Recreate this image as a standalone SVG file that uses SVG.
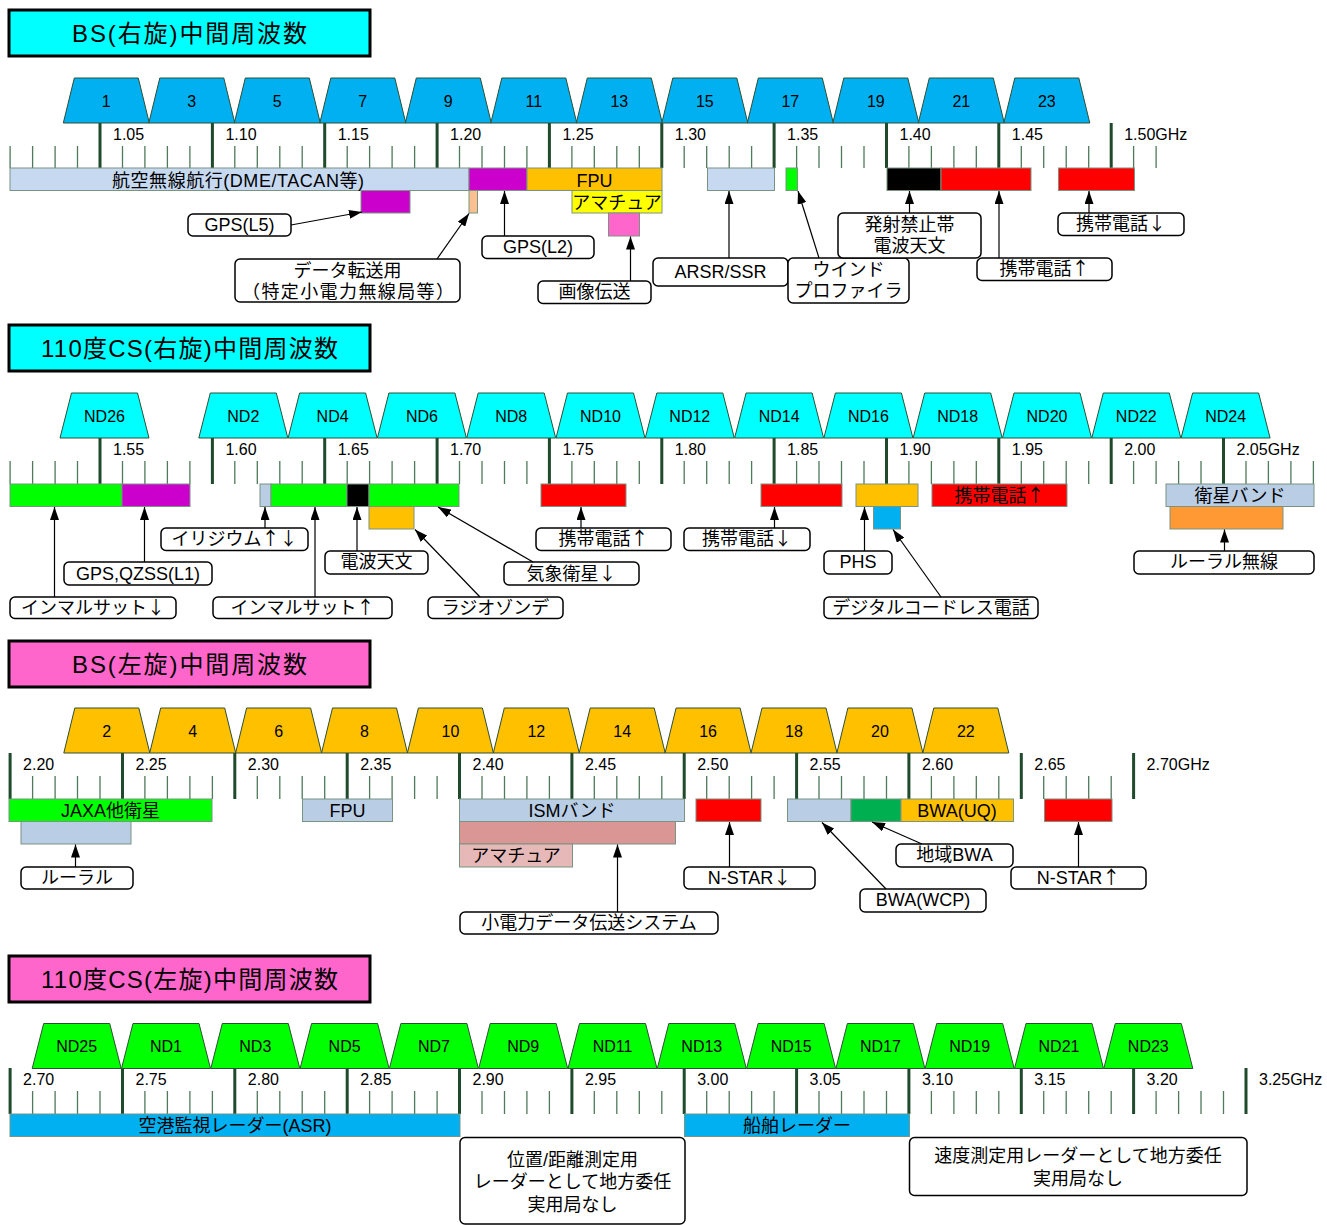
<svg xmlns="http://www.w3.org/2000/svg" width="1327" height="1225" viewBox="0 0 1327 1225">
<defs>
<style>
.t{font-family:"Liberation Sans","Noto Sans CJK JP",sans-serif;fill:#000}
.ar{font-family:"Noto Sans CJK JP",sans-serif}
.c{text-anchor:middle}
.hd{font-size:24px}
.lb{font-size:18px}
.fq{font-size:16px}
.ch{font-size:16px}
.hdr{stroke:#000;stroke-width:3}
.cy{fill:#00ffff}
.pk{fill:#ff66cc}
.maj{stroke:#1f4a2c;stroke-width:3;fill:none}
.min{stroke:#4f7a5c;stroke-width:1.3;fill:none}
.tr{stroke:#2f4f35;stroke-width:1}
.bs{fill:#00b0f0}
.cs{fill:#00ffff}
.or{fill:#ffc000}
.gr{fill:#00ff00}
.bd{stroke:#7a9482;stroke-width:1}
.lblue{fill:#c6d9f1}
.gblue{fill:#b9cde5}
.mag{fill:#cc00cc}
.peach{fill:#fac090}
.yel{fill:#ffff00}
.red{fill:#ff0000}
.blk{fill:#000000}
.blue{fill:#00b0f0}
.lor{fill:#ff9933}
.rose{fill:#d99694}
.lrose{fill:#e6b9b8}
.dgr{fill:#00b050}
.box{fill:#fff;stroke:#000;stroke-width:1.5}
.cn{stroke:#000;stroke-width:1.2;fill:none;marker-end:url(#ah)}
</style>
<marker id="ah" viewBox="0 0 13 9" refX="13" refY="4.5" markerWidth="13" markerHeight="9" orient="auto" markerUnits="userSpaceOnUse"><path d="M0 0L13 4.5L0 9z" fill="#000"/></marker>
<path id="trA" d="M-43 45L-32 0H32L43 45Z"/>
<path id="trB" d="M-44.5 45L-33 0H33L44.5 45Z"/>
</defs>
<rect width="1327" height="1225" fill="#fff"/>

<!-- Headers -->
<g id="hdr-bs-right"><rect x="9" y="10" width="361" height="46" class="hdr cy"/><text x="189.5" y="42" class="t hd c" textLength="235">BS(右旋)中間周波数</text></g>
<g id="hdr-cs-right"><rect x="9" y="325" width="361" height="46" class="hdr cy"/><text x="189.5" y="357" class="t hd c" textLength="297">110度CS(右旋)中間周波数</text></g>
<g id="hdr-bs-left"><rect x="9" y="641" width="361" height="46" class="hdr pk"/><text x="189.5" y="673" class="t hd c" textLength="235">BS(左旋)中間周波数</text></g>
<g id="hdr-cs-left"><rect x="9" y="956" width="361" height="46" class="hdr pk"/><text x="189.5" y="988" class="t hd c" textLength="297">110度CS(左旋)中間周波数</text></g>

<!-- Scales -->
<g id="scale1">
<path class="min" d="M10.1 146v22M32.6 146v22M55.1 146v22M77.5 146v22M122.5 146v22M144.9 146v22M167.4 146v22M189.9 146v22M234.8 146v22M257.3 146v22M279.8 146v22M302.2 146v22M347.2 146v22M369.6 146v22M392.1 146v22M414.6 146v22M459.5 146v22M482 146v22M504.5 146v22M526.9 146v22M571.9 146v22M594.3 146v22M616.8 146v22M639.3 146v22M684.2 146v22M706.7 146v22M729.2 146v22M751.6 146v22M796.6 146v22M819 146v22M841.5 146v22M864 146v22M908.9 146v22M931.4 146v22M953.9 146v22M976.3 146v22M1021.3 146v22M1043.7 146v22M1066.2 146v22M1088.7 146v22M1133.6 146v22M1156.1 146v22"/>
<path class="maj" d="M100 123v45M212.4 123v45M324.7 123v45M437.1 123v45M549.4 123v45M661.8 123v45M774.1 123v45M886.5 123v45M998.8 123v45M1111.2 123v45"/>
<g class="t fq">
<text x="113" y="140">1.05</text><text x="225.4" y="140">1.10</text><text x="337.7" y="140">1.15</text><text x="450.1" y="140">1.20</text><text x="562.4" y="140">1.25</text><text x="674.8" y="140">1.30</text><text x="787.1" y="140">1.35</text><text x="899.5" y="140">1.40</text><text x="1011.8" y="140">1.45</text><text x="1124.2" y="140">1.50GHz</text>
</g>
</g>
<g id="scale2">
<path class="min" d="M10.1 461v23M32.6 461v23M55.1 461v23M77.5 461v23M122.5 461v23M144.9 461v23M167.4 461v23M189.9 461v23M234.8 461v23M257.3 461v23M279.8 461v23M302.2 461v23M347.2 461v23M369.6 461v23M392.1 461v23M414.6 461v23M459.5 461v23M482 461v23M504.5 461v23M526.9 461v23M571.9 461v23M594.3 461v23M616.8 461v23M639.3 461v23M684.2 461v23M706.7 461v23M729.2 461v23M751.6 461v23M796.6 461v23M819 461v23M841.5 461v23M864 461v23M908.9 461v23M931.4 461v23M953.9 461v23M976.3 461v23M1021.3 461v23M1043.7 461v23M1066.2 461v23M1088.7 461v23M1133.6 461v23M1156.1 461v23M1178.6 461v23M1201 461v23M1246 461v23M1268.4 461v23M1290.9 461v23M1313.4 461v23"/>
<path class="maj" d="M100 438v46M212.4 438v46M324.7 438v46M437.1 438v46M549.4 438v46M661.8 438v46M774.1 438v46M886.5 438v46M998.8 438v46M1111.2 438v46M1223.5 438v46"/>
<g class="t fq">
<text x="113" y="455">1.55</text><text x="225.4" y="455">1.60</text><text x="337.7" y="455">1.65</text><text x="450.1" y="455">1.70</text><text x="562.4" y="455">1.75</text><text x="674.8" y="455">1.80</text><text x="787.1" y="455">1.85</text><text x="899.5" y="455">1.90</text><text x="1011.8" y="455">1.95</text><text x="1124.2" y="455">2.00</text><text x="1236.5" y="455">2.05GHz</text>
</g>
</g>
<g id="scale3">
<path class="min" d="M32.6 776v23M55.1 776v23M77.5 776v23M100 776v23M144.9 776v23M167.4 776v23M189.9 776v23M212.4 776v23M257.3 776v23M279.8 776v23M302.2 776v23M324.7 776v23M369.6 776v23M392.1 776v23M414.6 776v23M437.1 776v23M482 776v23M504.5 776v23M526.9 776v23M549.4 776v23M594.3 776v23M616.8 776v23M639.3 776v23M661.8 776v23M706.7 776v23M729.2 776v23M751.6 776v23M774.1 776v23M819 776v23M841.5 776v23M864 776v23M886.5 776v23M931.4 776v23M953.9 776v23M976.3 776v23M998.8 776v23M1043.7 776v23M1066.2 776v23M1088.7 776v23M1111.2 776v23"/>
<path class="maj" d="M10.1 753v46M122.5 753v46M234.8 753v46M347.2 753v46M459.5 753v46M571.9 753v46M684.2 753v46M796.6 753v46M908.9 753v46M1021.3 753v46M1133.6 753v46"/>
<g class="t fq">
<text x="23.1" y="770">2.20</text><text x="135.5" y="770">2.25</text><text x="247.8" y="770">2.30</text><text x="360.2" y="770">2.35</text><text x="472.5" y="770">2.40</text><text x="584.9" y="770">2.45</text><text x="697.2" y="770">2.50</text><text x="809.6" y="770">2.55</text><text x="921.9" y="770">2.60</text><text x="1034.3" y="770">2.65</text><text x="1146.6" y="770">2.70GHz</text>
</g>
</g>
<g id="scale4">
<path class="min" d="M32.6 1091v23M55.1 1091v23M77.5 1091v23M100 1091v23M144.9 1091v23M167.4 1091v23M189.9 1091v23M212.4 1091v23M257.3 1091v23M279.8 1091v23M302.2 1091v23M324.7 1091v23M369.6 1091v23M392.1 1091v23M414.6 1091v23M437.1 1091v23M482 1091v23M504.5 1091v23M526.9 1091v23M549.4 1091v23M594.3 1091v23M616.8 1091v23M639.3 1091v23M661.8 1091v23M706.7 1091v23M729.2 1091v23M751.6 1091v23M774.1 1091v23M819 1091v23M841.5 1091v23M864 1091v23M886.5 1091v23M931.4 1091v23M953.9 1091v23M976.3 1091v23M998.8 1091v23M1043.7 1091v23M1066.2 1091v23M1088.7 1091v23M1111.2 1091v23M1156.1 1091v23M1178.6 1091v23M1201 1091v23M1223.5 1091v23"/>
<path class="maj" d="M10.1 1068v46M122.5 1068v46M234.8 1068v46M347.2 1068v46M459.5 1068v46M571.9 1068v46M684.2 1068v46M796.6 1068v46M908.9 1068v46M1021.3 1068v46M1133.6 1068v46M1246 1068v46"/>
<g class="t fq">
<text x="23.1" y="1085">2.70</text><text x="135.5" y="1085">2.75</text><text x="247.8" y="1085">2.80</text><text x="360.2" y="1085">2.85</text><text x="472.5" y="1085">2.90</text><text x="584.9" y="1085">2.95</text><text x="697.2" y="1085">3.00</text><text x="809.6" y="1085">3.05</text><text x="921.9" y="1085">3.10</text><text x="1034.3" y="1085">3.15</text><text x="1146.6" y="1085">3.20</text><text x="1259" y="1085">3.25GHz</text>
</g>
</g>

<!-- Section 1 channels -->
<g id="ch-bs-r">
<g id="bs1"><use href="#trA" x="106.3" y="78" class="tr bs"/><text x="106.3" y="106.5" class="t ch c">1</text></g>
<g id="bs3"><use href="#trA" x="191.8" y="78" class="tr bs"/><text x="191.8" y="106.5" class="t ch c">3</text></g>
<g id="bs5"><use href="#trA" x="277.3" y="78" class="tr bs"/><text x="277.3" y="106.5" class="t ch c">5</text></g>
<g id="bs7"><use href="#trA" x="362.8" y="78" class="tr bs"/><text x="362.8" y="106.5" class="t ch c">7</text></g>
<g id="bs9"><use href="#trA" x="448.3" y="78" class="tr bs"/><text x="448.3" y="106.5" class="t ch c">9</text></g>
<g id="bs11"><use href="#trA" x="533.8" y="78" class="tr bs"/><text x="533.8" y="106.5" class="t ch c">11</text></g>
<g id="bs13"><use href="#trA" x="619.3" y="78" class="tr bs"/><text x="619.3" y="106.5" class="t ch c">13</text></g>
<g id="bs15"><use href="#trA" x="704.8" y="78" class="tr bs"/><text x="704.8" y="106.5" class="t ch c">15</text></g>
<g id="bs17"><use href="#trA" x="790.3" y="78" class="tr bs"/><text x="790.3" y="106.5" class="t ch c">17</text></g>
<g id="bs19"><use href="#trA" x="875.8" y="78" class="tr bs"/><text x="875.8" y="106.5" class="t ch c">19</text></g>
<g id="bs21"><use href="#trA" x="961.3" y="78" class="tr bs"/><text x="961.3" y="106.5" class="t ch c">21</text></g>
<g id="bs23"><use href="#trA" x="1046.8" y="78" class="tr bs"/><text x="1046.8" y="106.5" class="t ch c">23</text></g>
</g>

<!-- Section 2 channels -->
<g id="ch-cs-r">
<g id="nd26"><use href="#trB" x="104.5" y="393" class="tr cs"/><text x="104.5" y="421.5" class="t ch c">ND26</text></g>
<g id="nd2"><use href="#trB" x="243.3" y="393" class="tr cs"/><text x="243.3" y="421.5" class="t ch c">ND2</text></g>
<g id="nd4"><use href="#trB" x="332.6" y="393" class="tr cs"/><text x="332.6" y="421.5" class="t ch c">ND4</text></g>
<g id="nd6"><use href="#trB" x="421.9" y="393" class="tr cs"/><text x="421.9" y="421.5" class="t ch c">ND6</text></g>
<g id="nd8"><use href="#trB" x="511.2" y="393" class="tr cs"/><text x="511.2" y="421.5" class="t ch c">ND8</text></g>
<g id="nd10"><use href="#trB" x="600.5" y="393" class="tr cs"/><text x="600.5" y="421.5" class="t ch c">ND10</text></g>
<g id="nd12"><use href="#trB" x="689.8" y="393" class="tr cs"/><text x="689.8" y="421.5" class="t ch c">ND12</text></g>
<g id="nd14"><use href="#trB" x="779.1" y="393" class="tr cs"/><text x="779.1" y="421.5" class="t ch c">ND14</text></g>
<g id="nd16"><use href="#trB" x="868.4" y="393" class="tr cs"/><text x="868.4" y="421.5" class="t ch c">ND16</text></g>
<g id="nd18"><use href="#trB" x="957.7" y="393" class="tr cs"/><text x="957.7" y="421.5" class="t ch c">ND18</text></g>
<g id="nd20"><use href="#trB" x="1047" y="393" class="tr cs"/><text x="1047" y="421.5" class="t ch c">ND20</text></g>
<g id="nd22"><use href="#trB" x="1136.3" y="393" class="tr cs"/><text x="1136.3" y="421.5" class="t ch c">ND22</text></g>
<g id="nd24"><use href="#trB" x="1225.6" y="393" class="tr cs"/><text x="1225.6" y="421.5" class="t ch c">ND24</text></g>
</g>

<!-- Section 3 channels -->
<g id="ch-bs-l">
<g id="bs2"><use href="#trA" x="106.8" y="708" class="tr or"/><text x="106.8" y="736.5" class="t ch c">2</text></g>
<g id="bs4"><use href="#trA" x="192.7" y="708" class="tr or"/><text x="192.7" y="736.5" class="t ch c">4</text></g>
<g id="bs6"><use href="#trA" x="278.6" y="708" class="tr or"/><text x="278.6" y="736.5" class="t ch c">6</text></g>
<g id="bs8"><use href="#trA" x="364.5" y="708" class="tr or"/><text x="364.5" y="736.5" class="t ch c">8</text></g>
<g id="bs10"><use href="#trA" x="450.4" y="708" class="tr or"/><text x="450.4" y="736.5" class="t ch c">10</text></g>
<g id="bs12"><use href="#trA" x="536.3" y="708" class="tr or"/><text x="536.3" y="736.5" class="t ch c">12</text></g>
<g id="bs14"><use href="#trA" x="622.2" y="708" class="tr or"/><text x="622.2" y="736.5" class="t ch c">14</text></g>
<g id="bs16"><use href="#trA" x="708.1" y="708" class="tr or"/><text x="708.1" y="736.5" class="t ch c">16</text></g>
<g id="bs18"><use href="#trA" x="794" y="708" class="tr or"/><text x="794" y="736.5" class="t ch c">18</text></g>
<g id="bs20"><use href="#trA" x="879.9" y="708" class="tr or"/><text x="879.9" y="736.5" class="t ch c">20</text></g>
<g id="bs22"><use href="#trA" x="965.8" y="708" class="tr or"/><text x="965.8" y="736.5" class="t ch c">22</text></g>
</g>

<!-- Section 4 channels -->
<g id="ch-cs-l">
<g id="nd25"><use href="#trB" x="76.7" y="1023.5" class="tr gr"/><text x="76.7" y="1052" class="t ch c">ND25</text></g>
<g id="nd1"><use href="#trB" x="166" y="1023.5" class="tr gr"/><text x="166" y="1052" class="t ch c">ND1</text></g>
<g id="nd3"><use href="#trB" x="255.3" y="1023.5" class="tr gr"/><text x="255.3" y="1052" class="t ch c">ND3</text></g>
<g id="nd5"><use href="#trB" x="344.6" y="1023.5" class="tr gr"/><text x="344.6" y="1052" class="t ch c">ND5</text></g>
<g id="nd7"><use href="#trB" x="433.9" y="1023.5" class="tr gr"/><text x="433.9" y="1052" class="t ch c">ND7</text></g>
<g id="nd9"><use href="#trB" x="523.2" y="1023.5" class="tr gr"/><text x="523.2" y="1052" class="t ch c">ND9</text></g>
<g id="nd11"><use href="#trB" x="612.5" y="1023.5" class="tr gr"/><text x="612.5" y="1052" class="t ch c">ND11</text></g>
<g id="nd13"><use href="#trB" x="701.8" y="1023.5" class="tr gr"/><text x="701.8" y="1052" class="t ch c">ND13</text></g>
<g id="nd15"><use href="#trB" x="791.1" y="1023.5" class="tr gr"/><text x="791.1" y="1052" class="t ch c">ND15</text></g>
<g id="nd17"><use href="#trB" x="880.4" y="1023.5" class="tr gr"/><text x="880.4" y="1052" class="t ch c">ND17</text></g>
<g id="nd19"><use href="#trB" x="969.7" y="1023.5" class="tr gr"/><text x="969.7" y="1052" class="t ch c">ND19</text></g>
<g id="nd21"><use href="#trB" x="1059" y="1023.5" class="tr gr"/><text x="1059" y="1052" class="t ch c">ND21</text></g>
<g id="nd23"><use href="#trB" x="1148.3" y="1023.5" class="tr gr"/><text x="1148.3" y="1052" class="t ch c">ND23</text></g>
</g>

<!-- Section 1 bands -->
<g id="bands1">
<g id="b1-dme"><rect x="10" y="168" width="459" height="22.5" class="bd lblue"/><text x="238" y="186.5" class="t lb c" textLength="252">航空無線航行(DME/TACAN等)</text></g>
<g id="b1-gpsl5main"><rect x="469" y="168" width="58" height="22.5" class="bd mag"/></g>
<g id="b1-fpu"><rect x="527" y="168" width="135" height="22.5" class="bd or"/><text x="594.5" y="186.5" class="t lb c">FPU</text></g>
<g id="b1-gpsl5"><rect x="361" y="190.5" width="49" height="22.5" class="bd mag"/></g>
<g id="b1-data"><rect x="469" y="190.5" width="8.5" height="22.5" class="bd peach"/></g>
<g id="b1-ama"><rect x="572" y="190.5" width="90" height="22.5" class="bd yel" stroke="#7a7a30"/><text x="617" y="208.5" class="t lb c">アマチュア</text></g>
<g id="b1-img"><rect x="608.5" y="213" width="31" height="23" class="bd pk"/></g>
<g id="b1-arsr"><rect x="707.5" y="168" width="67" height="22.5" class="bd lblue"/></g>
<g id="b1-wind"><rect x="786" y="168" width="11.5" height="22.5" class="bd gr"/></g>
<g id="b1-ban"><rect x="887" y="168" width="54" height="22.5" class="bd blk"/></g>
<g id="b1-mobup"><rect x="941" y="168" width="90" height="22.5" class="bd red"/></g>
<g id="b1-mobdn"><rect x="1058.5" y="168" width="76" height="22.5" class="bd red"/></g>
</g>

<!-- Section 2 bands -->
<g id="bands2">
<g id="b2-inm-dn"><rect x="10" y="484" width="112" height="22.5" class="bd gr"/></g>
<g id="b2-gps"><rect x="122" y="484" width="68" height="22.5" class="bd mag"/></g>
<g id="b2-iri"><rect x="260" y="484" width="11" height="22.5" class="bd gblue"/></g>
<g id="b2-inm-up"><rect x="271" y="484" width="76" height="22.5" class="bd gr"/></g>
<g id="b2-radio"><rect x="347" y="484" width="22" height="22.5" class="bd blk"/></g>
<g id="b2-met"><rect x="369" y="484" width="90" height="22.5" class="bd gr"/></g>
<g id="b2-sonde"><rect x="369" y="506.5" width="45" height="22.5" class="bd or"/></g>
<g id="b2-mob-up"><rect x="541" y="484" width="85" height="22.5" class="bd red"/></g>
<g id="b2-mob-dn"><rect x="761" y="484" width="81" height="22.5" class="bd red"/></g>
<g id="b2-phs"><rect x="856" y="484" width="62" height="22.5" class="bd or"/></g>
<g id="b2-dect"><rect x="873.5" y="506.5" width="27" height="22.5" class="bd blue"/></g>
<g id="b2-mob-up2"><rect x="932" y="484" width="135" height="22.5" class="bd red"/><text x="999.5" y="501.5" class="t lb c">携帯電話<tspan class="ar">↑</tspan></text></g>
<g id="b2-sat"><rect x="1166" y="484" width="148" height="22.5" class="bd gblue"/><text x="1240" y="501.5" class="t lb c">衛星バンド</text></g>
<g id="b2-rural"><rect x="1170" y="506.5" width="113" height="22.5" class="bd lor"/></g>
</g>

<!-- Section 3 bands -->
<g id="bands3">
<g id="b3-jaxa"><rect x="9" y="799" width="203" height="22.5" class="bd gr"/><text x="110.5" y="816.5" class="t lb c">JAXA他衛星</text></g>
<g id="b3-rural"><rect x="21" y="821.5" width="110" height="22.5" class="bd gblue"/></g>
<g id="b3-fpu"><rect x="302.5" y="799" width="90" height="22.5" class="bd gblue"/><text x="347.5" y="816.5" class="t lb c">FPU</text></g>
<g id="b3-ism"><rect x="459.5" y="799" width="225" height="22.5" class="bd gblue"/><text x="572" y="816.5" class="t lb c">ISMバンド</text></g>
<g id="b3-lp"><rect x="459.5" y="821.5" width="216" height="22.5" class="bd rose"/></g>
<g id="b3-ama"><rect x="459.5" y="844" width="113" height="23" class="bd lrose"/><text x="516" y="861.5" class="t lb c">アマチュア</text></g>
<g id="b3-nstar-dn"><rect x="696" y="799" width="65" height="22.5" class="bd red"/></g>
<g id="b3-wcp"><rect x="787.5" y="799" width="63.5" height="22.5" class="bd gblue"/></g>
<g id="b3-local"><rect x="851" y="799" width="50" height="22.5" class="bd dgr"/></g>
<g id="b3-uq"><rect x="901" y="799" width="112.5" height="22.5" class="bd or"/><text x="957" y="816.5" class="t lb c">BWA(UQ)</text></g>
<g id="b3-nstar-up"><rect x="1044.5" y="799" width="67.5" height="22.5" class="bd red"/></g>
</g>

<!-- Section 4 bands -->
<g id="bands4">
<g id="b4-asr"><rect x="10" y="1114" width="450" height="22.5" class="bd blue"/><text x="235" y="1131.5" class="t lb c">空港監視レーダー(ASR)</text></g>
<g id="b4-ship"><rect x="684.5" y="1114" width="225" height="22.5" class="bd blue"/><text x="797" y="1131.5" class="t lb c">船舶レーダー</text></g>
</g>

<!-- Labels section 1 -->
<g id="labels1">
<g id="l1-gpsl5"><rect x="188" y="214" width="103" height="22" rx="5" class="box"/><text x="239.5" y="231" class="t lb c">GPS(L5)</text></g>
<g id="l1-data"><rect x="235" y="259" width="225" height="43" rx="5" class="box"/><text x="347.5" y="276.5" class="t lb c">データ転送用</text><text x="348" y="298" class="t lb c" textLength="212">（特定小電力無線局等）</text></g>
<g id="l1-gpsl2"><rect x="482" y="236" width="112" height="22.5" rx="5" class="box"/><text x="538" y="253" class="t lb c">GPS(L2)</text></g>
<g id="l1-img"><rect x="538" y="281" width="113" height="22.5" rx="5" class="box"/><text x="594.5" y="298" class="t lb c">画像伝送</text></g>
<g id="l1-arsr"><rect x="653" y="258" width="135" height="28" rx="5" class="box"/><text x="720.5" y="278" class="t lb c">ARSR/SSR</text></g>
<g id="l1-wind"><rect x="788" y="258" width="121" height="45" rx="5" class="box"/><text x="848.5" y="275.5" class="t lb c">ウインド</text><text x="848.5" y="297" class="t lb c">プロファイラ</text></g>
<g id="l1-ban"><rect x="838" y="213" width="143" height="45" rx="5" class="box"/><text x="909.5" y="230.5" class="t lb c">発射禁止帯</text><text x="909.5" y="252" class="t lb c">電波天文</text></g>
<g id="l1-mobup"><rect x="977" y="258" width="135" height="22.5" rx="5" class="box"/><text x="1044.5" y="275" class="t lb c">携帯電話<tspan class="ar">↑</tspan></text></g>
<g id="l1-mobdn"><rect x="1058" y="213" width="126" height="22.5" rx="5" class="box"/><text x="1121" y="230" class="t lb c">携帯電話<tspan class="ar">↓</tspan></text></g>
</g>

<!-- Labels section 2 -->
<g id="labels2">
<g id="l2-inm-dn"><rect x="10" y="597" width="166" height="21.5" rx="5" class="box"/><text x="93" y="613.5" class="t lb c">インマルサット<tspan class="ar">↓</tspan></text></g>
<g id="l2-gps"><rect x="64" y="562" width="148" height="23" rx="5" class="box"/><text x="138" y="579.5" class="t lb c">GPS,QZSS(L1)</text></g>
<g id="l2-iri"><rect x="161" y="528" width="147" height="22.5" rx="5" class="box"/><text x="234.5" y="545" class="t lb c">イリジウム<tspan class="ar">↑↓</tspan></text></g>
<g id="l2-inm-up"><rect x="213" y="597" width="179" height="21.5" rx="5" class="box"/><text x="302.5" y="613.5" class="t lb c">インマルサット<tspan class="ar">↑</tspan></text></g>
<g id="l2-radio"><rect x="325" y="551" width="103" height="23" rx="5" class="box"/><text x="376.5" y="568" class="t lb c">電波天文</text></g>
<g id="l2-sonde"><rect x="428" y="597" width="135" height="21.5" rx="5" class="box"/><text x="495.5" y="613.5" class="t lb c">ラジオゾンデ</text></g>
<g id="l2-met"><rect x="504" y="562" width="135" height="23" rx="5" class="box"/><text x="571.5" y="579.5" class="t lb c">気象衛星<tspan class="ar">↓</tspan></text></g>
<g id="l2-mob-up"><rect x="536" y="528" width="135" height="22.5" rx="5" class="box"/><text x="603.5" y="545" class="t lb c">携帯電話<tspan class="ar">↑</tspan></text></g>
<g id="l2-mob-dn"><rect x="684" y="528" width="126" height="22.5" rx="5" class="box"/><text x="747" y="545" class="t lb c">携帯電話<tspan class="ar">↓</tspan></text></g>
<g id="l2-phs"><rect x="824" y="551" width="68" height="23" rx="5" class="box"/><text x="858" y="568" class="t lb c">PHS</text></g>
<g id="l2-dect"><rect x="824" y="597" width="214" height="21.5" rx="5" class="box"/><text x="931" y="613.5" class="t lb c">デジタルコードレス電話</text></g>
<g id="l2-rural"><rect x="1134" y="551" width="180" height="23" rx="5" class="box"/><text x="1224" y="568" class="t lb c">ルーラル無線</text></g>
</g>

<!-- Labels section 3 -->
<g id="labels3">
<g id="l3-rural"><rect x="21" y="867" width="112" height="22" rx="5" class="box"/><text x="77" y="883.5" class="t lb c">ルーラル</text></g>
<g id="l3-lp"><rect x="460" y="912" width="258" height="22" rx="5" class="box"/><text x="589" y="928.5" class="t lb c">小電力データ伝送システム</text></g>
<g id="l3-nstar-dn"><rect x="684" y="867" width="131" height="22" rx="5" class="box"/><text x="749.5" y="883.5" class="t lb c">N-STAR<tspan class="ar">↓</tspan></text></g>
<g id="l3-wcp"><rect x="860" y="889" width="126" height="23" rx="5" class="box"/><text x="923" y="906" class="t lb c">BWA(WCP)</text></g>
<g id="l3-local"><rect x="896" y="844" width="117" height="23" rx="5" class="box"/><text x="954.5" y="861" class="t lb c">地域BWA</text></g>
<g id="l3-nstar-up"><rect x="1011" y="867" width="135" height="22" rx="5" class="box"/><text x="1078.5" y="883.5" class="t lb c">N-STAR<tspan class="ar">↑</tspan></text></g>
</g>

<!-- Labels section 4 -->
<g id="labels4">
<g id="l4-pos"><rect x="460" y="1137.5" width="225" height="86.5" rx="5" class="box"/><text x="572.5" y="1165.5" class="t lb c">位置/距離測定用</text><text x="572.5" y="1188" class="t lb c">レーダーとして地方委任</text><text x="572.5" y="1210.5" class="t lb c">実用局なし</text></g>
<g id="l4-speed"><rect x="909.5" y="1137.5" width="337.5" height="58" rx="5" class="box"/><text x="1078" y="1161.5" class="t lb c">速度測定用レーダーとして地方委任</text><text x="1078" y="1185" class="t lb c">実用局なし</text></g>
</g>

<!-- Connectors -->
<g id="connectors">
<path class="cn" d="M291 225L362 212"/>
<path class="cn" d="M437 259L469 213.5"/>
<path class="cn" d="M504.5 236V191"/>
<path class="cn" d="M630.5 281V236.5"/>
<path class="cn" d="M729 258V191"/>
<path class="cn" d="M819 258L798 191"/>
<path class="cn" d="M909.5 213V191"/>
<path class="cn" d="M999 258V191"/>
<path class="cn" d="M1089 213V191"/>
<path class="cn" d="M54.5 597V507"/>
<path class="cn" d="M144.5 562V507"/>
<path class="cn" d="M265 528V507"/>
<path class="cn" d="M315 597V507"/>
<path class="cn" d="M357 551V507"/>
<path class="cn" d="M480 597L415 529.5"/>
<path class="cn" d="M533 562L438 507"/>
<path class="cn" d="M581 528V507"/>
<path class="cn" d="M774.5 528V507"/>
<path class="cn" d="M864.5 551V507"/>
<path class="cn" d="M941 597L893 529.5"/>
<path class="cn" d="M1224.5 551V529.5"/>
<path class="cn" d="M75.5 867V844.5"/>
<path class="cn" d="M617.5 912V844.5"/>
<path class="cn" d="M729.5 867V822"/>
<path class="cn" d="M886 889L822 822.5"/>
<path class="cn" d="M922 844L872 822"/>
<path class="cn" d="M1078.5 867V822"/>
</g>
</svg>
